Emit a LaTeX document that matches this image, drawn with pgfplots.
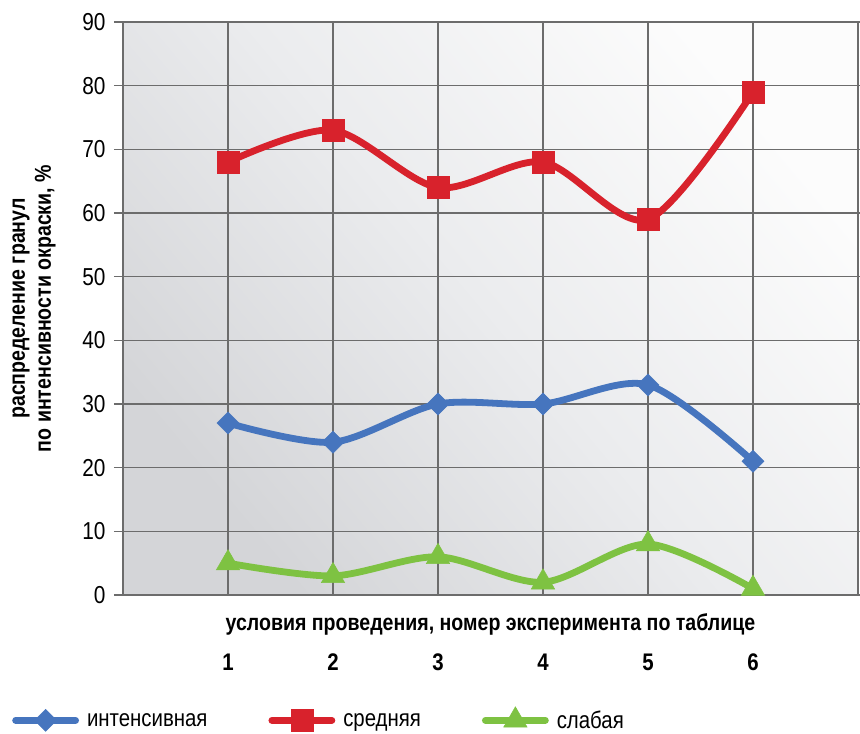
\documentclass[border=0pt]{standalone}
\usepackage{fontspec}
\setmainfont{Liberation Sans}[FakeStretch=0.85]
\usepackage{pgfplots}
\pgfplotsset{compat=1.18}
\definecolor{cblue}{RGB}{70,117,190}
\definecolor{cred}{RGB}{216,34,44}
\definecolor{cgreen}{RGB}{126,194,66}
\definecolor{cgrid}{RGB}{108,108,108}
\definecolor{bgdark}{RGB}{212,213,216}
\definecolor{bglight}{RGB}{252,252,252}
\definecolor{bgmid}{RGB}{235,236,238}
\begin{document}
\begin{tikzpicture}[x=1pt,y=1pt]
\useasboundingbox (-123,-139) rectangle (737,595);
\clip (-123,-139) rectangle (737,595);
\begin{axis}[
  at={(0,0)}, anchor=south west,
  scale only axis, width=735pt, height=573pt,
  xmin=0, xmax=7, ymin=0, ymax=90,
  xtick={1,2,3,4,5,6}, ytick={0,10,...,90},
  grid=major, grid style={cgrid, line width=1.6pt},
  axis line style={cgrid, line width=1.6pt},
  tick align=outside, major tick length=9pt,
  tick style={cgrid, line width=1.6pt},
  xtick style={draw=none},
  axis background/.style={shade, top color=bglight, bottom color=bgdark, middle color=bgmid, shading angle=-50},
  /pgf/number format/assume math mode=true,
  ticklabel style={font=\fontsize{24.5}{28}\selectfont},
  yticklabel style={xshift=-5pt},
  xticklabel style={font=\bfseries\fontsize{24}{28}\selectfont, anchor=center, yshift=-58pt},
  xlabel={условия проведения, номер эксперимента по таблице},
  xlabel style={at={(axis description cs:0.5,-0.052)}, anchor=center, font=\bfseries\fontsize{23}{26}\selectfont},
  ylabel={распределение гранул\\по интенсивности окраски, \%},
  ylabel style={at={(axis description cs:-0.1210,0.5)}, anchor=center, align=center, font=\bfseries\fontsize{23}{26}\selectfont},
  legend columns=-1,
  legend style={draw=none, fill=none, at={(axis description cs:-0.151,-0.2170)}, anchor=west,
    inner sep=0pt, font=\fontsize{24}{28}\selectfont,
    /tikz/every odd column/.append style={column sep=6pt},
    /tikz/every even column/.append style={column sep=59pt}},
  legend image code/.code={\draw[#1, mark repeat=2, mark phase=2] plot coordinates {(0pt,0pt) (30pt,0pt) (60pt,0pt)};},
  every axis plot/.append style={line width=6.8pt, line cap=round, smooth, tension=0.5},
]
\addplot[cblue, mark=square*, mark size=7.8pt, mark options={rotate=45, line width=0.5pt, fill=cblue}]
  coordinates {(1,27) (2,24) (3,30) (4,30) (5,33) (6,21)};
\addlegendentry{интенсивная}
\addplot[cred, mark=square*, mark size=11pt, mark options={line width=0.5pt, fill=cred}]
  coordinates {(1,68) (2,73) (3,64) (4,68) (5,59) (6,79)};
\addlegendentry{средняя}
\addplot[cgreen, mark=triangle*, mark size=13.5pt, mark options={line width=0.5pt, fill=cgreen}]
  coordinates {(1,5) (2,3) (3,6) (4,2) (5,8) (6,1)};
\addlegendentry{слабая}
\end{axis}
\end{tikzpicture}
\end{document}
